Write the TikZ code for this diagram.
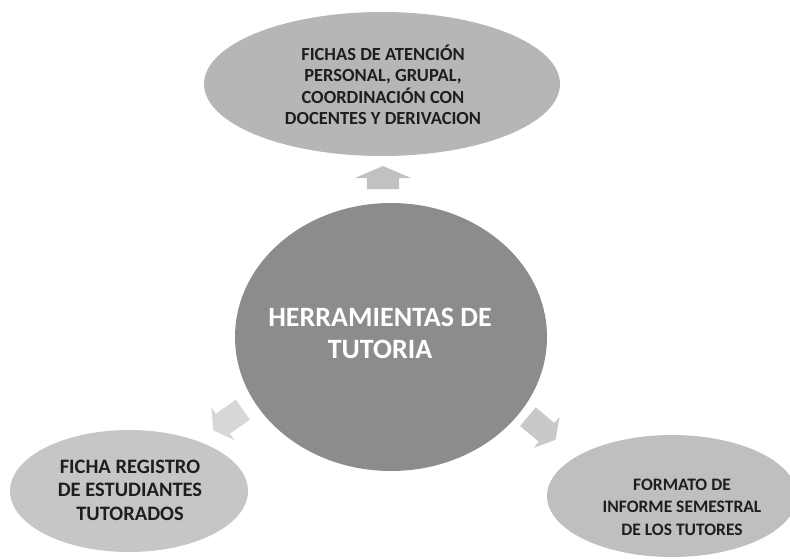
\documentclass[tikz,border=0pt]{standalone}
\usepackage{fontspec}
\setmainfont{Carlito}
\usetikzlibrary{shapes.geometric,shapes.arrows}
\definecolor{hubgray}{HTML}{8C8C8C}
\definecolor{topgray}{HTML}{B6B6B6}
\definecolor{leftgray}{HTML}{C6C6C6}
\definecolor{rightgray}{HTML}{BFBFBF}
\definecolor{inkdark}{HTML}{1E1E1E}
\tikzset{
  blob/.style={ellipse, inner sep=0pt, draw=none},
  lbl/.style={align=center, text=inkdark, inner sep=0pt},
  barrow/.style={single arrow, draw=none, inner xsep=0pt, single arrow tip angle=120}
}
\begin{document}
\begin{tikzpicture}[x=1pt,y=-1pt]
\useasboundingbox (0,0) rectangle (790,559);
% outer ellipses
\node[blob, fill=topgray, minimum width=356pt, minimum height=144pt] (top) at (382,84) {};
\node[blob, fill=leftgray, minimum width=238pt, minimum height=122pt] (left) at (129,491) {};
\node[blob, fill=rightgray, minimum width=250pt, minimum height=122pt] (right) at (672,496) {};
% hub
\node[blob, fill=hubgray, minimum width=312pt, minimum height=268pt] (hub) at (391,337) {};
% arrows
\node[barrow, fill=topgray!85, inner ysep=16pt, minimum height=23pt, single arrow head extend=12pt, single arrow tip angle=134, rotate=90] (atop) at (383,181) {};
\node[barrow, fill=rightgray!85, inner ysep=12pt, minimum height=36pt, single arrow head extend=8pt, rotate=-40] (aright) at (539,426) {};
\node[barrow, fill=leftgray!70, inner ysep=12pt, minimum height=36pt, single arrow head extend=8pt, rotate=215] (aleft) at (231,418) {};
% texts
\node[lbl, font=\bfseries\fontsize{18.5}{21.5}\selectfont] (ttop) at (383,85)
  {FICHAS DE ATENCIÓN\\PERSONAL, GRUPAL,\\COORDINACIÓN CON\\DOCENTES Y DERIVACION};
\node[lbl, font=\bfseries\fontsize{20.5}{23.5}\selectfont] (tleft) at (130,490)
  {FICHA REGISTRO\\DE ESTUDIANTES\\TUTORADOS};
\node[lbl, font=\bfseries\fontsize{17.5}{22.5}\selectfont] (tright) at (682,507)
  {FORMATO DE\\INFORME SEMESTRAL\\DE LOS TUTORES};
\node[lbl, text=white, font=\bfseries\fontsize{28}{32}\selectfont] (thub) at (380,333)
  {HERRAMIENTAS DE\\TUTORIA};
\end{tikzpicture}
\end{document}
